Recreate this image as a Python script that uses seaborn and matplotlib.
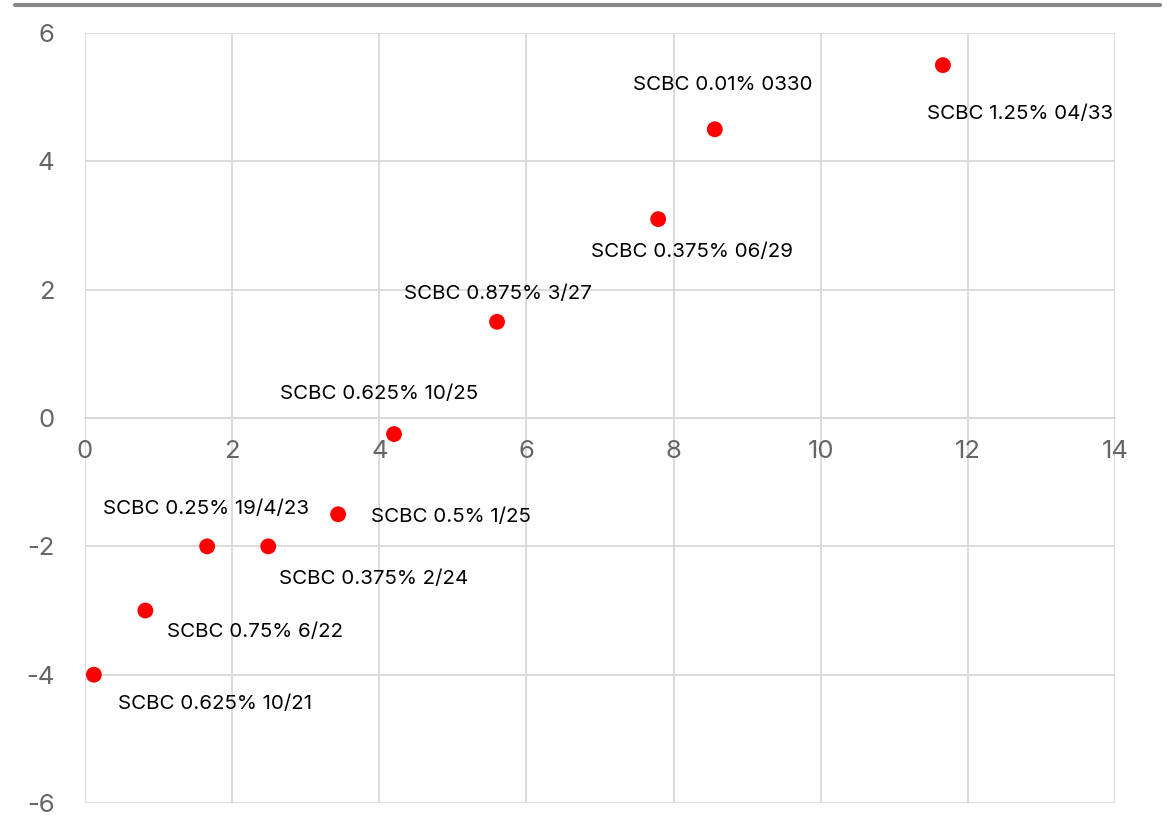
import numpy as np
import pandas as pd
import matplotlib.pyplot as plt
from matplotlib.lines import Line2D
import seaborn as sns

# bond data
bonds = ['SCBC 1.25% 04/33', 'SCBC 0.01% 0330', 'SCBC 0.375% 06/29', 'SCBC 0.875% 3/27',
         'SCBC 0.625% 10/25', 'SCBC 0.5% 1/25', 'SCBC 0.375% 2/24', 'SCBC 0.25% 19/4/23',
         'SCBC 0.75% 6/22', 'SCBC 0.625% 10/21']
x_vals = [11.66, 8.56, 7.79, 5.60, 4.20, 3.44, 2.49, 1.66, 0.82, 0.12]
y_vals = [5.5, 4.5, 3.1, 1.5, -0.25, -1.5, -2.0, -2.0, -3.0, -4.0]
# label offsets (pixels) relative to the point
label_dx = [77, 8, 34, 1, -15, 113, 105, -1, 110, 121]
label_dy = [-49, 44, -33, 28, 40, -3, -33, 37, -21, -29]

df = pd.DataFrame({'bond': bonds, 'x': x_vals, 'y': y_vals})

sns.set_style('white')
plt.rcParams['font.family'] = ['Inter', 'DejaVu Sans']
plt.rcParams['axes.unicode_minus'] = False

fig = plt.figure(figsize=(11.73, 8.3), dpi=100)
ax = fig.add_axes([0.0725, 0.0325, 0.8781, 0.9277])

sns.scatterplot(data=df, x='x', y='y', color='#ff0000', s=130, edgecolor='none', ax=ax, zorder=3)

for b, x, y, dx, dy in zip(bonds, x_vals, y_vals, label_dx, label_dy):
    ax.annotate(b, (x, y), xytext=(dx, dy), textcoords='offset pixels',
                ha='center', va='center', fontsize=14.8, color='black')

ax.set_xlim(0, 14)
ax.set_ylim(-6, 6)
ax.set_xticks(np.arange(0, 15, 2))
ax.set_yticks(np.arange(-6, 7, 2))
ax.grid(True, color='#d9d9d9', linewidth=1.3)
ax.set_axisbelow(True)
for s in ['top', 'right', 'left']:
    ax.spines[s].set_visible(False)
ax.spines['bottom'].set_position(('data', 0))
ax.spines['bottom'].set_color('#d9d9d9')
ax.spines['bottom'].set_linewidth(1.3)
ax.tick_params(axis='both', length=0, labelsize=18.5, labelcolor='#666666')
ax.tick_params(axis='x', pad=16)
ax.tick_params(axis='y', pad=22)
ax.set_xlabel('')
ax.set_ylabel('')

fig.add_artist(Line2D([15 / 1173, 1160 / 1173], [1 - 5 / 830, 1 - 5 / 830],
                      transform=fig.transFigure, color='#888888', linewidth=3))

fig.savefig('out.png', dpi=100)
